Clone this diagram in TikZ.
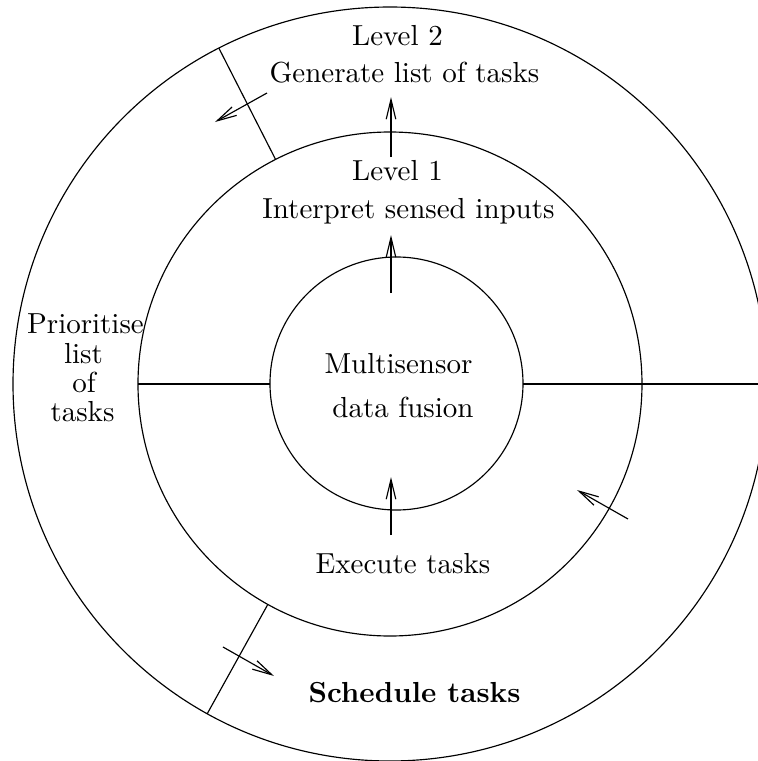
\documentclass[tikz,border=0pt]{standalone}
\usetikzlibrary{arrows.meta}
\begin{document}
\begin{tikzpicture}[x=0.345pt, y=0.345pt,
  ring/.style={circle, draw, inner sep=0pt, outer sep=0pt},
  flow/.style={-{Straight Barb[length=6.8pt,width=3.3pt]}},
  lbl/.style={anchor=base, inner sep=0pt, outer sep=0pt}]
\useasboundingbox (0,0) rectangle (758,761);
\clip (0,0) rectangle (758,761);

% three rings
\node[ring, minimum size=754*0.345pt] (outer) at (390,377) {};
\node[ring, minimum size=504*0.345pt] (mid) at (390,377) {};
\node[ring, minimum size=253*0.345pt] (inner) at (396.5,377.5) {};

% dividers
\draw (mid.west) -- (mid.west -| inner.west);
\draw (inner.east |- mid.east) -- (outer.east);
\draw (mid.117.5) -- (outer.117.5);
\draw (mid.241) -- (outer.241);

% labels
\node[lbl] (lv2) at (397.5,716) {Level 2};
\node[lbl] (gen) at (404.5,679) {Generate list of tasks};
\node[lbl] (lv1) at (397.5,581) {Level 1};
\node[lbl] (intp) at (408.5,543) {Interpret sensed inputs};
\node[lbl] (msf) at (398.5,388) {Multisensor};
\node[lbl] (dfu) at (403,344) {data fusion};
\node[lbl] (pr1) at (85.5,428) {Prioritise};
\node[lbl] (pr2) at (83.5,398) {list};
\node[lbl] (pr3) at (84,369) {of};
\node[lbl] (pr4) at (82.5,340) {tasks};
\node[lbl] (exe) at (403,188) {Execute tasks};
\node[lbl] (sch) at (414.5,59) {\bfseries Schedule tasks};

% arrow end points
\coordinate (a1s) at (267,668); \coordinate (a1e) at (215,639);
\coordinate (a2s) at (391,604); \coordinate (a2e) at (391,664);
\coordinate (a3s) at (391,468); \coordinate (a3e) at (391,526);
\coordinate (a4s) at (391,226); \coordinate (a4e) at (391,284);
\coordinate (a5s) at (628,242); \coordinate (a5e) at (577,271);
\coordinate (a6s) at (223,114); \coordinate (a6e) at (274,85);

\draw[flow] (a1s) -- (a1e);
\draw[flow] (a2s) -- (a2e);
\draw[flow] (a3s) -- (a3e);
\draw[flow] (a4s) -- (a4e);
\draw[flow] (a5s) -- (a5e);
\draw[flow] (a6s) -- (a6e);
\end{tikzpicture}
\end{document}
